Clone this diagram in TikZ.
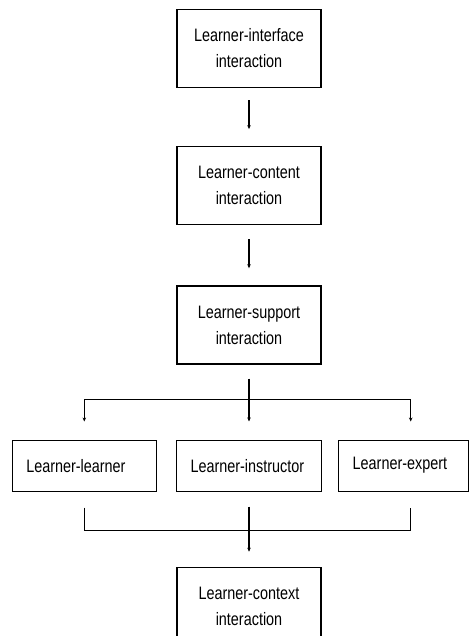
\documentclass[tikz,border=0pt]{standalone}
\usepackage{fontspec}
\setmainfont{Liberation Sans}[FakeStretch=0.8]
\usetikzlibrary{positioning, arrows.meta}

\begin{document}
\begin{tikzpicture}[x=1pt, y=-1pt,
     node distance = 58pt and 19pt,
        box/.style = {rectangle, draw, line width=1.2pt, minimum width=144pt, minimum height=78pt,
                      align=center, font=\fontsize{18}{26}\selectfont, inner sep=0pt},
       rbox/.style = {rectangle, draw, line width=1.2pt, minimum height=51pt, inner xsep=14pt,
                      align=left, font=\fontsize{18}{26}\selectfont},
       link/.style = {line width=1.2pt},
        arr/.style = {link, -{Stealth[length=4pt, width=3.5pt]}}
                        ]
\clip (0,0) rectangle (469,636);
\node (iface)[box] at (249,48.5) {Learner-interface\\interaction};
\node (content)[box, below =of iface] {Learner-content\\interaction};
\node (support)[box, below =60pt of content] {Learner-support\\interaction};
\node (instr)[rbox, text width=117pt, below =75pt of support] {Learner-instructor};
\node (learner)[rbox, text width=116pt, left =of instr] {Learner-learner};
\node (expert)[rbox, text width=102pt, right =16pt of instr] {Learner-expert};
\node (context)[box, below =75pt of instr] {Learner-context\\interaction};
\coordinate[below =35pt of support] (split);
\coordinate[below =39pt of instr] (join);
\draw[arr, shorten <=12pt, shorten >=17pt] (iface) -- (content);
\draw[arr, shorten <=14pt, shorten >=17pt] (content) -- (support);
\draw[arr, shorten <=14pt, shorten >=18pt] (support) -- (instr);
\draw[arr, shorten >=18pt] (split) -| (learner.north);
\draw[arr, shorten >=18pt] (split) -| ([xshift=7pt]expert.north);
\draw[link] ([yshift=-16pt]learner.south) |- (join) -| ([xshift=7pt, yshift=-16pt]expert.south);
\draw[arr, shorten <=15pt, shorten >=15pt] (instr) -- (context);
\end{tikzpicture}
\end{document}
